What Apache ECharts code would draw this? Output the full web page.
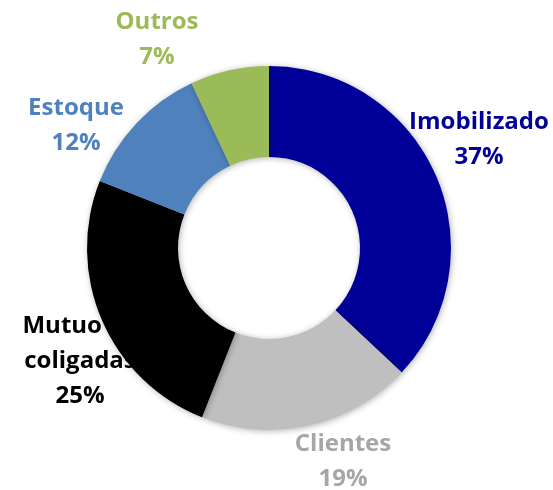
<!DOCTYPE html>
<html>
<head>
<meta charset="utf-8">
<script src="https://cdn.jsdelivr.net/npm/echarts@6/dist/echarts.min.js"></script>
<style>html,body{margin:0;padding:0;background:#fff;}#c{width:553px;height:490px;}</style>
</head>
<body>
<div id="c"></div>
<script>
var categories = ['Imobilizado', 'Clientes', 'Mutuo de\ncoligadas', 'Estoque', 'Outros'];
var values = [37, 19, 25, 12, 7];
var sliceColors = ['#000099', '#BFBFBF', '#000000', '#4F81BD', '#9BBB59'];
var labelColors = ['#000099', '#A6A6A6', '#000000', '#4F81BD', '#9BBB59'];
var labelPos = [[479, 140], [343, 462], [80, 361], [76, 126], [157, 40]];

var chart = echarts.init(document.getElementById('c'), null, {renderer: 'canvas'});
var data = categories.map(function (c, i) {
  return {
    name: c,
    value: values[i],
    itemStyle: {color: sliceColors[i]},
    label: {color: labelColors[i]}
  };
});
chart.setOption({
  animation: false,
  series: [{
    type: 'pie',
    center: [269, 248],
    radius: [91, 182],
    startAngle: 90,
    clockwise: true,
    avoidLabelOverlap: false,
    data: data,
    itemStyle: {
      shadowBlur: 6,
      shadowColor: 'rgba(0,0,0,0.3)',
      shadowOffsetX: 1,
      shadowOffsetY: 1
    },
    label: {
      show: true,
      position: 'outside',
      formatter: function (p) { return p.name + '\n' + p.value + '%'; },
      fontFamily: 'Open Sans',
      fontWeight: 'bold',
      fontSize: 24,
      lineHeight: 35,
      align: 'center',
      verticalAlign: 'middle'
    },
    labelLine: {show: false},
    labelLayout: function (p) {
      var pos = labelPos[p.dataIndex];
      return {x: pos[0], y: pos[1], align: 'center', verticalAlign: 'middle'};
    },
    emphasis: {disabled: true}
  }]
});
</script>
</body>
</html>
